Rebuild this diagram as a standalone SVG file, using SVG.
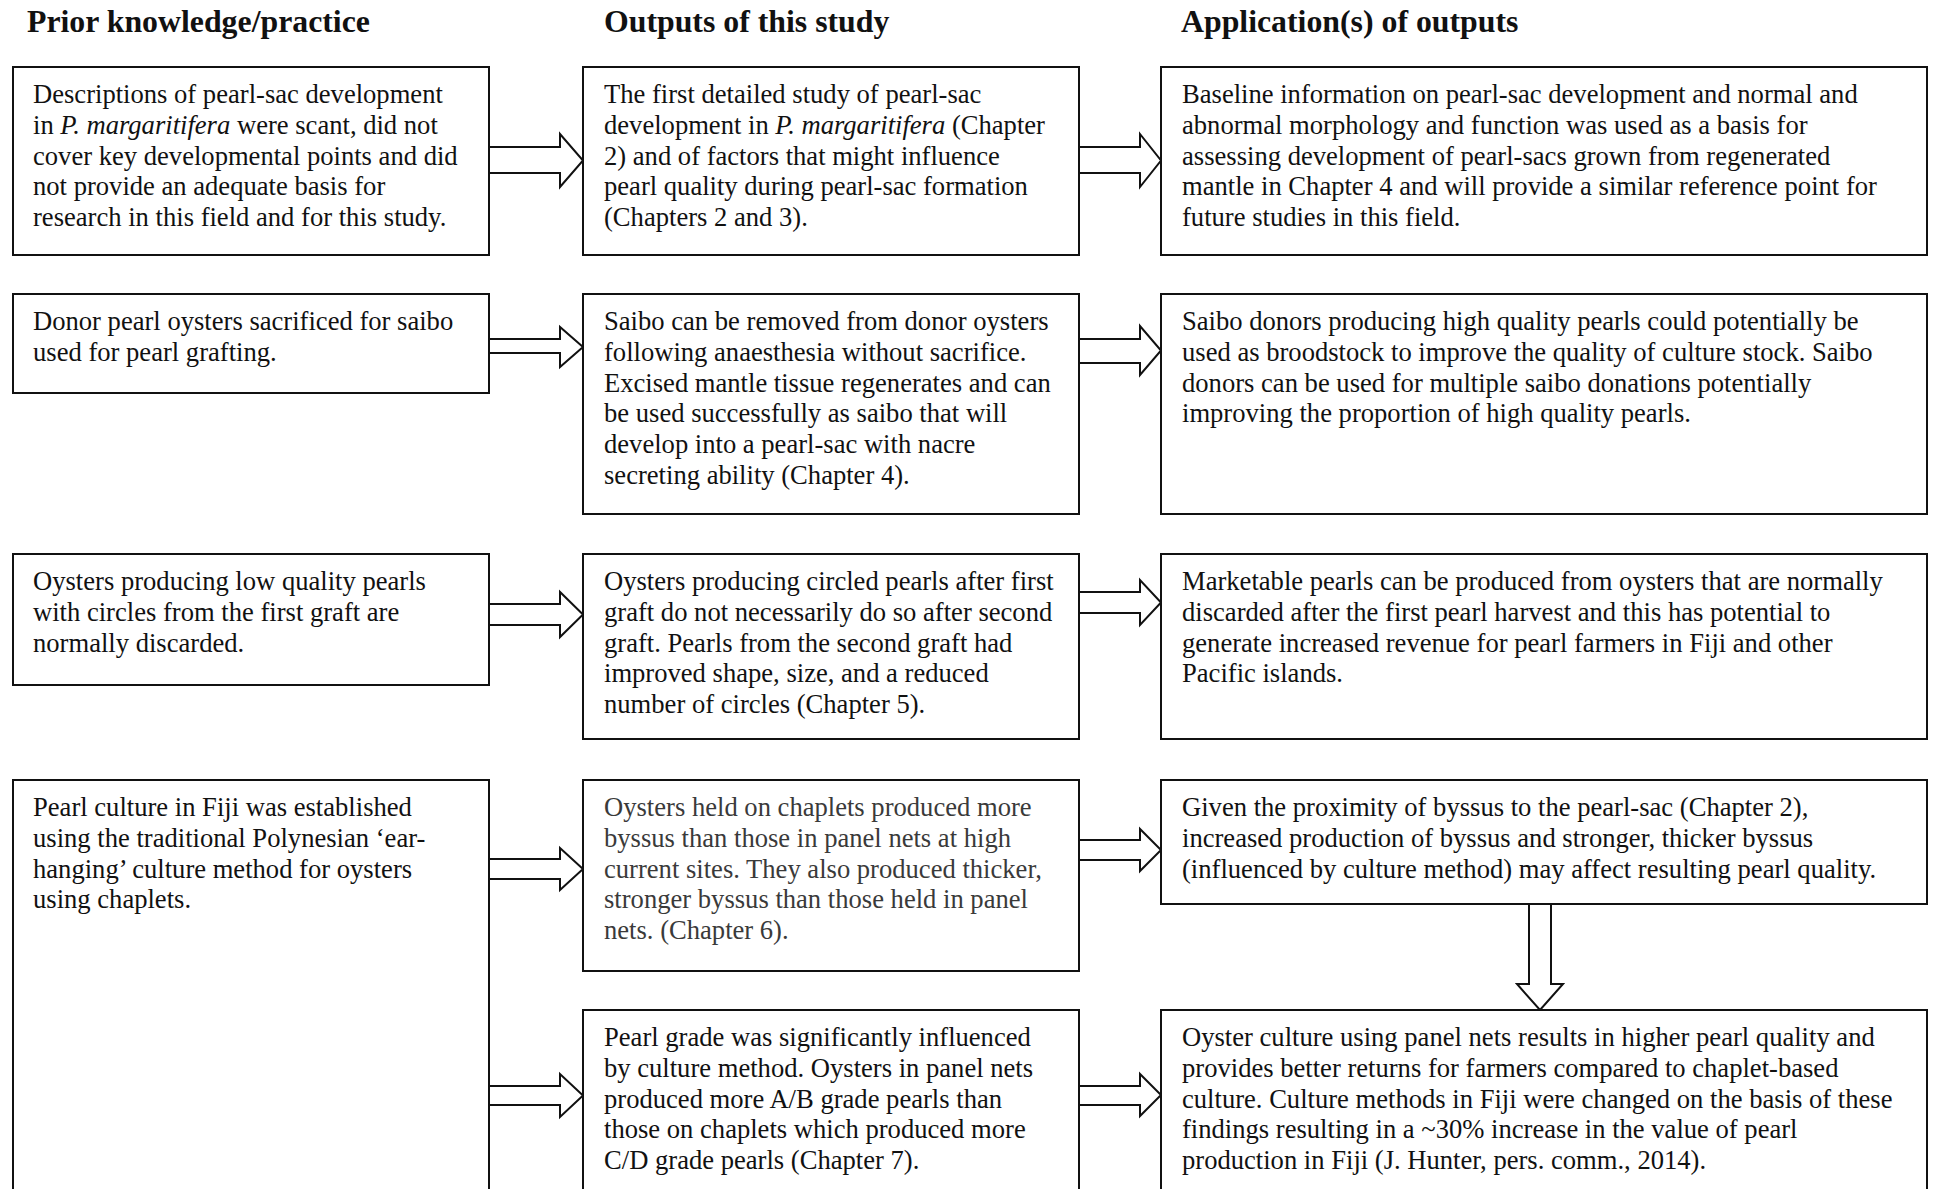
<svg xmlns="http://www.w3.org/2000/svg" width="1937" height="1189" viewBox="0 0 1937 1189">
<style>
.bg{fill:#fff}
.box{fill:#fff;stroke:#111;stroke-width:2}
.arr{fill:#fff;stroke:#111;stroke-width:2;stroke-linejoin:miter}
.t{font-family:"Liberation Serif","Times New Roman",serif;font-size:26.6px;fill:#111}
.g{fill:#3a3a3a}
.h{font-family:"Liberation Serif","Times New Roman",serif;font-size:31.8px;font-weight:bold;fill:#111}
.i{font-style:italic}
</style>
<rect class="bg" x="0" y="0" width="1937" height="1189"/>
<g id="headers">
<text class="h" x="27" y="32">Prior knowledge/practice</text>
<text class="h" x="604" y="32">Outputs of this study</text>
<text class="h" x="1181" y="32">Application(s) of outputs</text>
</g>
<g id="connectors">
<polygon class="arr" points="489,147 560,147 560,134 583,160.5 560,187 560,173 489,173"/>
<polygon class="arr" points="1079,147 1140,147 1140,134 1161,160.5 1140,187 1140,173 1079,173"/>
<polygon class="arr" points="489,339 560,339 560,327 583,347 560,367 560,353 489,353"/>
<polygon class="arr" points="1079,339 1140,339 1140,326 1161,350.5 1140,375 1140,363 1079,363"/>
<polygon class="arr" points="489,604 560,604 560,592 583,614.5 560,637 560,625 489,625"/>
<polygon class="arr" points="1079,592 1140,592 1140,580 1161,602.5 1140,625 1140,613 1079,613"/>
<polygon class="arr" points="489,859 560,859 560,848 583,869 560,890 560,879 489,879"/>
<polygon class="arr" points="1079,840 1140,840 1140,829 1161,850 1140,871 1140,860 1079,860"/>
<polygon class="arr" points="489,1086 560,1086 560,1074 583,1095.5 560,1117 560,1105 489,1105"/>
<polygon class="arr" points="1079,1086 1140,1086 1140,1074 1161,1095 1140,1116 1140,1105 1079,1105"/>
<polygon class="arr" points="1529,904 1551,904 1551,984 1563,984 1540,1010 1517,984 1529,984"/>
</g>
<g id="prior1">
<rect class="box" x="13" y="67" width="476" height="188"/>
<text class="t"><tspan x="33" y="103">Descriptions of pearl-sac development</tspan><tspan x="33" y="133.8">in <tspan class="i">P. margaritifera</tspan> were scant, did not</tspan><tspan x="33" y="164.6">cover key developmental points and did</tspan><tspan x="33" y="195.4">not provide an adequate basis for</tspan><tspan x="33" y="226.2">research in this field and for this study.</tspan></text>
</g>
<g id="prior2">
<rect class="box" x="13" y="294" width="476" height="99"/>
<text class="t"><tspan x="33" y="330">Donor pearl oysters sacrificed for saibo</tspan><tspan x="33" y="360.8">used for pearl grafting.</tspan></text>
</g>
<g id="prior3">
<rect class="box" x="13" y="554" width="476" height="131"/>
<text class="t"><tspan x="33" y="590">Oysters producing low quality pearls</tspan><tspan x="33" y="620.8">with circles from the first graft are</tspan><tspan x="33" y="651.6">normally discarded.</tspan></text>
</g>
<g id="prior4">
<rect class="box" x="13" y="780" width="476" height="420"/>
<text class="t"><tspan x="33" y="816">Pearl culture in Fiji was established</tspan><tspan x="33" y="846.8">using the traditional Polynesian ‘ear-</tspan><tspan x="33" y="877.6">hanging’ culture method for oysters</tspan><tspan x="33" y="908.4">using chaplets.</tspan></text>
</g>
<g id="output1">
<rect class="box" x="583" y="67" width="496" height="188"/>
<text class="t"><tspan x="604" y="103">The first detailed study of pearl-sac</tspan><tspan x="604" y="133.8">development in <tspan class="i">P. margaritifera</tspan> (Chapter</tspan><tspan x="604" y="164.6">2) and of factors that might influence</tspan><tspan x="604" y="195.4">pearl quality during pearl-sac formation</tspan><tspan x="604" y="226.2">(Chapters 2 and 3).</tspan></text>
</g>
<g id="output2">
<rect class="box" x="583" y="294" width="496" height="220"/>
<text class="t"><tspan x="604" y="330">Saibo can be removed from donor oysters</tspan><tspan x="604" y="360.8">following anaesthesia without sacrifice.</tspan><tspan x="604" y="391.6">Excised mantle tissue regenerates and can</tspan><tspan x="604" y="422.4">be used successfully as saibo that will</tspan><tspan x="604" y="453.2">develop into a pearl-sac with nacre</tspan><tspan x="604" y="484">secreting ability (Chapter 4).</tspan></text>
</g>
<g id="output3">
<rect class="box" x="583" y="554" width="496" height="185"/>
<text class="t"><tspan x="604" y="590">Oysters producing circled pearls after first</tspan><tspan x="604" y="620.8">graft do not necessarily do so after second</tspan><tspan x="604" y="651.6">graft. Pearls from the second graft had</tspan><tspan x="604" y="682.4">improved shape, size, and a reduced</tspan><tspan x="604" y="713.2">number of circles (Chapter 5).</tspan></text>
</g>
<g id="output4">
<rect class="box" x="583" y="780" width="496" height="191"/>
<text class="t g"><tspan x="604" y="816">Oysters held on chaplets produced more</tspan><tspan x="604" y="846.8">byssus than those in panel nets at high</tspan><tspan x="604" y="877.6">current sites. They also produced thicker,</tspan><tspan x="604" y="908.4">stronger byssus than those held in panel</tspan><tspan x="604" y="939.2">nets. (Chapter 6).</tspan></text>
</g>
<g id="output5">
<rect class="box" x="583" y="1010" width="496" height="190"/>
<text class="t"><tspan x="604" y="1046">Pearl grade was significantly influenced</tspan><tspan x="604" y="1076.8">by culture method. Oysters in panel nets</tspan><tspan x="604" y="1107.6">produced more A/B grade pearls than</tspan><tspan x="604" y="1138.4">those on chaplets which produced more</tspan><tspan x="604" y="1169.2">C/D grade pearls (Chapter 7).</tspan></text>
</g>
<g id="application1">
<rect class="box" x="1161" y="67" width="766" height="188"/>
<text class="t"><tspan x="1182" y="103">Baseline information on pearl-sac development and normal and</tspan><tspan x="1182" y="133.8">abnormal morphology and function was used as a basis for</tspan><tspan x="1182" y="164.6">assessing development of pearl-sacs grown from regenerated</tspan><tspan x="1182" y="195.4">mantle in Chapter 4 and will provide a similar reference point for</tspan><tspan x="1182" y="226.2">future studies in this field.</tspan></text>
</g>
<g id="application2">
<rect class="box" x="1161" y="294" width="766" height="220"/>
<text class="t"><tspan x="1182" y="330">Saibo donors producing high quality pearls could potentially be</tspan><tspan x="1182" y="360.8">used as broodstock to improve the quality of culture stock. Saibo</tspan><tspan x="1182" y="391.6">donors can be used for multiple saibo donations potentially</tspan><tspan x="1182" y="422.4">improving the proportion of high quality pearls.</tspan></text>
</g>
<g id="application3">
<rect class="box" x="1161" y="554" width="766" height="185"/>
<text class="t"><tspan x="1182" y="590">Marketable pearls can be produced from oysters that are normally</tspan><tspan x="1182" y="620.8">discarded after the first pearl harvest and this has potential to</tspan><tspan x="1182" y="651.6">generate increased revenue for pearl farmers in Fiji and other</tspan><tspan x="1182" y="682.4">Pacific islands.</tspan></text>
</g>
<g id="application4">
<rect class="box" x="1161" y="780" width="766" height="124"/>
<text class="t"><tspan x="1182" y="816">Given the proximity of byssus to the pearl-sac (Chapter 2),</tspan><tspan x="1182" y="846.8">increased production of byssus and stronger, thicker byssus</tspan><tspan x="1182" y="877.6">(influenced by culture method) may affect resulting pearl quality.</tspan></text>
</g>
<g id="application5">
<rect class="box" x="1161" y="1010" width="766" height="190"/>
<text class="t"><tspan x="1182" y="1046">Oyster culture using panel nets results in higher pearl quality and</tspan><tspan x="1182" y="1076.8">provides better returns for farmers compared to chaplet-based</tspan><tspan x="1182" y="1107.6">culture. Culture methods in Fiji were changed on the basis of these</tspan><tspan x="1182" y="1138.4">findings resulting in a ~30% increase in the value of pearl</tspan><tspan x="1182" y="1169.2">production in Fiji (J. Hunter, pers. comm., 2014).</tspan></text>
</g>
</svg>
